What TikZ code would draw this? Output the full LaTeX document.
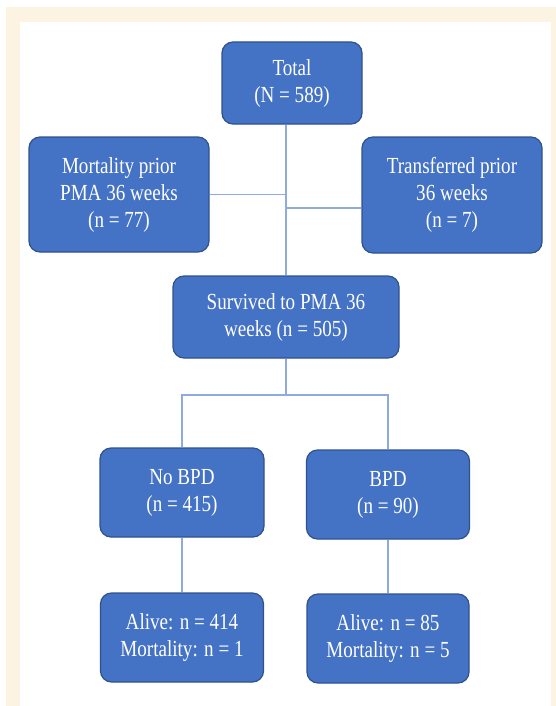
\documentclass[tikz,border=0pt]{standalone}
\usepackage{fontspec}
\setmainfont{Liberation Serif}[FakeStretch=0.83]
\usepackage{tikz}
\usetikzlibrary{calc}
\usepackage{xcolor}
\definecolor{boxblue}{HTML}{4472C4}
\definecolor{boxedge}{HTML}{2F528F}
\definecolor{linkblue}{HTML}{8FAADC}
\definecolor{cream}{HTML}{FDF3E2}

\begin{document}
\begin{tikzpicture}[x=1pt, y=-1pt]
        % ================= 样式定义 =================
        \tikzset{
            % 方框样式:蓝底圆角,白字
            fbox/.style={rectangle, rounded corners=11pt, draw=boxedge, line width=1.2pt, fill=boxblue,
                text=white, align=center, inner sep=2pt, font=\fontsize{23}{27}\selectfont},
            % 连线样式
            link/.style={draw=linkblue, line width=1.3pt}
        }

        % ================= 背景 =================
        \fill[white] (0,0) rectangle (556,706);
        \fill[cream] (6,7) rectangle (556,706);
        \fill[white] (20,22) rectangle (551,706);

        % ================= 方框 =================
        \node[fbox, minimum width=140pt, minimum height=82pt] (total) at (292, 83) {Total\\(N = 589)};
        \node[fbox, minimum width=180pt, minimum height=115pt] (mort) at (119, 194.5) {Mortality prior\\PMA 36 weeks\\(n = 77)};
        \node[fbox, minimum width=180pt, minimum height=116pt] (trans) at (452, 195) {Transferred prior\\36 weeks\\(n = 7)};
        \node[fbox, minimum width=226pt, minimum height=82pt] (surv) at (286, 317) {Survived to PMA 36\\weeks (n = 505)};
        \node[fbox, minimum width=164pt, minimum height=89pt] (nobpd) at (182, 492.5) {No BPD\\(n = 415)};
        \node[fbox, minimum width=163pt, minimum height=89pt] (bpd) at (388, 494.5) {BPD\\(n = 90)};
        \node[fbox, minimum width=163pt, minimum height=89pt] (alivea) at (182, 637.5) {Alive: n = 414\\Mortality: n = 1};
        \node[fbox, minimum width=162pt, minimum height=89pt] (aliveb) at (388, 638.5) {Alive: n = 85\\Mortality: n = 5};

        % ================= 连线 =================
        % 1. 主干
        \coordinate (tjoin) at (286, 208);
        \coordinate (fork) at (286, 395);
        \draw[link] (surv.north |- total.south) -- (surv.north);
        \draw[link] (mort.east) -- (mort.east -| surv.north);
        \draw[link] (trans.west |- tjoin) -- (tjoin);

        % 2. 分叉
        \draw[link] (surv.south) -- (fork);
        \draw[link] (nobpd.north) |- (fork) -| (bpd.north);

        % 3. 下层
        \draw[link] (nobpd) -- (alivea);
        \draw[link] (bpd) -- (aliveb);
\end{tikzpicture}
\end{document}
